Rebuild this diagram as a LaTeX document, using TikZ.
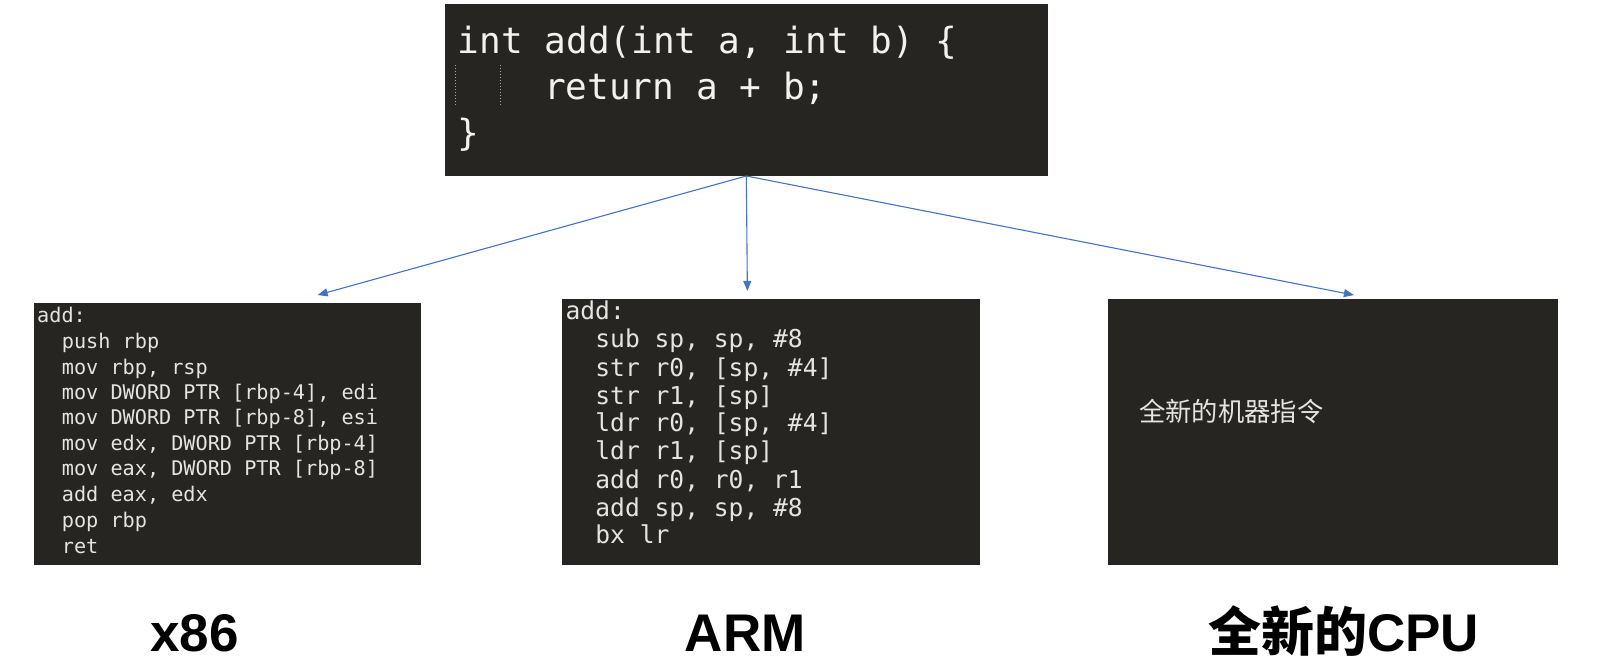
\documentclass[tikz,border=0pt]{standalone}
\usepackage{fontspec}
\newfontfamily\codefont{DejaVu Sans Mono}
\newfontfamily\cjkfont{Noto Sans CJK SC}
\newfontfamily\labelfont{Liberation Sans}
\usetikzlibrary{arrows.meta,fit}
\definecolor{boxbg}{RGB}{39,37,33}
\definecolor{codefg}{RGB}{228,228,226}
\definecolor{topfg}{RGB}{242,242,240}
\definecolor{arrowblue}{RGB}{68,114,196}
\tikzset{
  darkbox/.style={fill=boxbg, draw=none, inner sep=0},
  xcode/.style={font=\codefont\fontsize{20.2}{24}\selectfont, text=codefg, anchor=base west, inner sep=0},
  acode/.style={font=\codefont\fontsize{24.6}{28}\selectfont, text=codefg, anchor=base west, inner sep=0},
  tcode/.style={font=\codefont\fontsize{36.1}{42}\selectfont, text=topfg, anchor=base west, inner sep=0},
  cjktext/.style={font=\cjkfont\fontsize{26.3}{30}\selectfont, text=codefg, anchor=base west, inner sep=0},
  biglabel/.style={font=\labelfont\bfseries\fontsize{53}{60}\selectfont, text=black, anchor=base, inner sep=0},
  conn/.style={draw=arrowblue, line width=1.1pt, -{Triangle[length=10pt,width=8pt]}},
  guide/.style={draw=gray!70, line width=1.2pt, dash pattern=on 1.5pt off 1.5pt}
}
\begin{document}
\begin{tikzpicture}[x=1.028pt,y=-1.028pt]
\useasboundingbox (0,0) rectangle (1567.1,646.9);
\fill[white] (0,0) rectangle (1567.1,646.9);

% boxes
\coordinate (topA) at (433,4);   \coordinate (topB) at (1019,171);
\coordinate (xA) at (33,295);    \coordinate (xB) at (410,550);
\coordinate (aA) at (547,291);   \coordinate (aB) at (953,550);
\coordinate (nA) at (1078,291);  \coordinate (nB) at (1516,550);
\node[darkbox, fit=(topA)(topB)] (top) {};
\node[darkbox, fit=(xA)(xB)] (xbox) {};
\node[darkbox, fit=(aA)(aB)] (abox) {};
\node[darkbox, fit=(nA)(nB)] (nbox) {};

% top code
\draw[guide] (443,63) -- (443,103);
\draw[guide] (487,63) -- (487,103);
\node[tcode] (t0) at (445,52) {int add(int a, int b) \{};
\node[tcode] (t1) at (529,97) {return a + b;};
\node[tcode] (t2) at (445,142) {\}};

% x86 code
\node[xcode] (x0) at (36,314) {add:};
\node[xcode] (x1) at (60,339) {push rbp};
\node[xcode] (x2) at (60,364) {mov rbp, rsp};
\node[xcode] (x3) at (60,389) {mov DWORD PTR [rbp-4], edi};
\node[xcode] (x4) at (60,413) {mov DWORD PTR [rbp-8], esi};
\node[xcode] (x5) at (60,438) {mov edx, DWORD PTR [rbp-4]};
\node[xcode] (x6) at (60,463) {mov eax, DWORD PTR [rbp-8]};
\node[xcode] (x7) at (60,488) {add eax, edx};
\node[xcode] (x8) at (60,513) {pop rbp};
\node[xcode] (x9) at (60,538) {ret};

% ARM code
\node[acode] (a0) at (550,311) {add:};
\node[acode] (a1) at (579,338) {sub sp, sp, \#8};
\node[acode] (a2) at (579,366) {str r0, [sp, \#4]};
\node[acode] (a3) at (579,393) {str r1, [sp]};
\node[acode] (a4) at (579,420) {ldr r0, [sp, \#4]};
\node[acode] (a5) at (579,447) {ldr r1, [sp]};
\node[acode] (a6) at (579,475) {add r0, r0, r1};
\node[acode] (a7) at (579,502) {add sp, sp, \#8};
\node[acode] (a8) at (579,529) {bx lr};

% new CPU text
\node[cjktext] (n0) at (1108,410) {全新的机器指令};

% connectors
\coordinate (e1) at (309,287);
\coordinate (e2) at (727,283);
\coordinate (e3) at (1317,287);
\draw[conn] (top.south) -- (e1);
\draw[conn] (top.south) -- (e2);
\draw[conn] (top.south) -- (e3);

% labels
\node[biglabel] (l1) at (189,634) {x86};
\node[biglabel] (l2) at (725,634) {ARM};
\node[biglabel] (l3) at (1307,634) {{\cjkfont\bfseries 全新的}CPU};
\end{tikzpicture}
\end{document}
